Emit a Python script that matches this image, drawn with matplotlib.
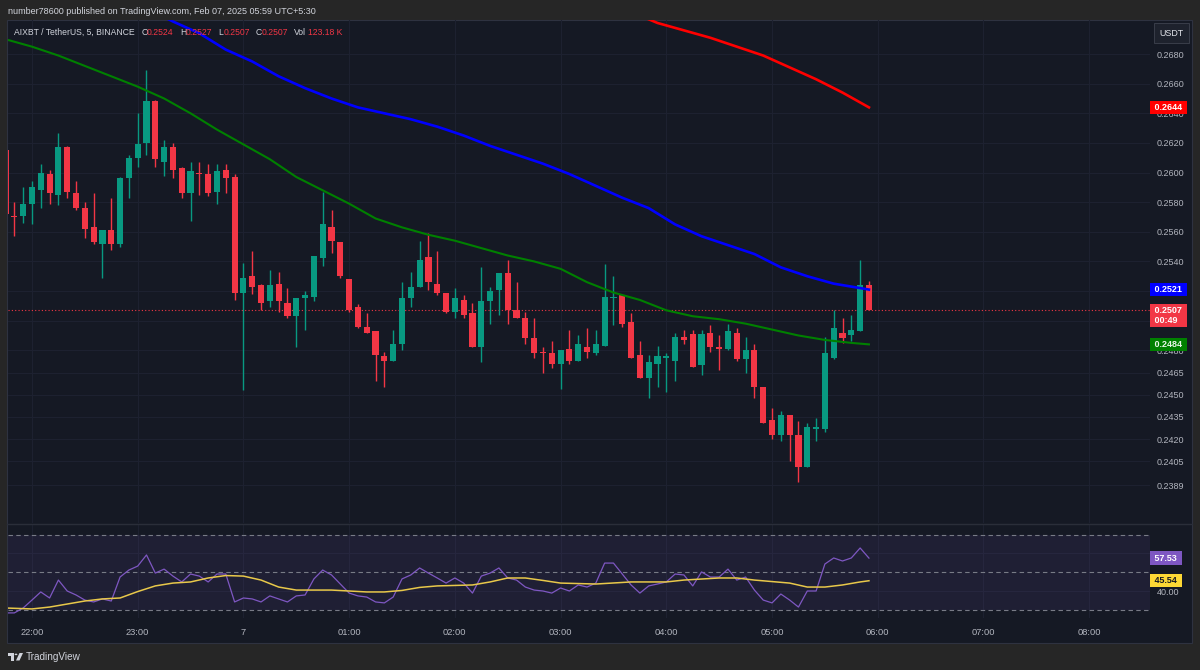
import matplotlib.pyplot as plt
from matplotlib.patches import Rectangle, Polygon, Circle
from matplotlib.lines import Line2D
import pandas as pd

plt.rcParams['font.family'] = ['Liberation Sans', 'DejaVu Sans']

# candles, 5 minute bars from 21:45 to 05:55
opens = [0.2615, 0.2571, 0.2571, 0.2579, 0.2588, 0.2599, 0.2585, 0.2617, 0.2586, 0.2576,
         0.2563, 0.2552, 0.2561, 0.2552, 0.2596, 0.2610, 0.2620, 0.2648, 0.2607, 0.2617,
         0.2603, 0.2586, 0.2600, 0.2599, 0.2587, 0.2602, 0.2597, 0.2519, 0.2530, 0.2524,
         0.2513, 0.2525, 0.2512, 0.2503, 0.2515, 0.2516, 0.2542, 0.2563, 0.2553, 0.2528,
         0.2509, 0.2496, 0.2493, 0.2476, 0.2473, 0.2484, 0.2515, 0.2523, 0.2543, 0.2525,
         0.2519, 0.2506, 0.2514, 0.2505, 0.2482, 0.2513, 0.2521, 0.2532, 0.2507, 0.2502,
         0.2488, 0.2479, 0.2478, 0.2471, 0.2481, 0.2473, 0.2482, 0.2478, 0.2483, 0.2515,
         0.2517, 0.2499, 0.2477, 0.2461, 0.2471, 0.2475, 0.2473, 0.2489, 0.2491, 0.2470,
         0.2492, 0.2482, 0.2481, 0.2492, 0.2474, 0.2480, 0.2455, 0.2433, 0.2423, 0.2436,
         0.2423, 0.2401, 0.2427, 0.2427, 0.2475, 0.2492, 0.2490, 0.2493, 0.2524]
highs = [0.2622, 0.2580, 0.2590, 0.2594, 0.2606, 0.2602, 0.2627, 0.2618, 0.2594, 0.2580,
         0.2586, 0.2561, 0.2583, 0.2597, 0.2612, 0.2640, 0.2669, 0.2649, 0.2622, 0.2620,
         0.2604, 0.2607, 0.2607, 0.2606, 0.2606, 0.2606, 0.2599, 0.2539, 0.2547, 0.2525,
         0.2534, 0.2533, 0.2522, 0.2515, 0.2520, 0.2544, 0.2587, 0.2575, 0.2553, 0.2528,
         0.2511, 0.2505, 0.2493, 0.2479, 0.2494, 0.2526, 0.2533, 0.2554, 0.2559, 0.2547,
         0.2519, 0.2522, 0.2517, 0.2512, 0.2536, 0.2523, 0.2532, 0.2541, 0.2526, 0.2506,
         0.2502, 0.2482, 0.2486, 0.2480, 0.2494, 0.2490, 0.2495, 0.2494, 0.2538, 0.2530,
         0.2517, 0.2505, 0.2486, 0.2477, 0.2483, 0.2478, 0.2492, 0.2494, 0.2494, 0.2494,
         0.2497, 0.2490, 0.2498, 0.2495, 0.2489, 0.2484, 0.2455, 0.2441, 0.2439, 0.2436,
         0.2432, 0.2431, 0.2434, 0.2489, 0.2507, 0.2502, 0.2504, 0.2541, 0.2527]
lows = [0.2571, 0.2557, 0.2566, 0.2565, 0.2576, 0.2579, 0.2578, 0.2583, 0.2575, 0.2556,
        0.2552, 0.2529, 0.2548, 0.2550, 0.2583, 0.2604, 0.2612, 0.2604, 0.2598, 0.2596,
        0.2583, 0.2567, 0.2585, 0.2584, 0.2579, 0.2586, 0.2514, 0.2453, 0.2518, 0.2507,
        0.2509, 0.2506, 0.2502, 0.2482, 0.2494, 0.2513, 0.2537, 0.2546, 0.2529, 0.2506,
        0.2495, 0.2492, 0.2459, 0.2455, 0.2473, 0.2480, 0.2509, 0.2523, 0.2521, 0.2517,
        0.2505, 0.2502, 0.2502, 0.2482, 0.2472, 0.2498, 0.2504, 0.2498, 0.2502, 0.2484,
        0.2475, 0.2465, 0.2468, 0.2454, 0.2471, 0.2473, 0.2475, 0.2477, 0.2483, 0.2497,
        0.2496, 0.2475, 0.2461, 0.2448, 0.2455, 0.2452, 0.2459, 0.2484, 0.2469, 0.2463,
        0.2479, 0.2467, 0.2480, 0.2473, 0.2465, 0.2448, 0.2431, 0.2420, 0.2419, 0.2405,
        0.2391, 0.2401, 0.2419, 0.2425, 0.2474, 0.2485, 0.2486, 0.2493, 0.2507]
closes = [0.2572, 0.2570, 0.2579, 0.2590, 0.2600, 0.2586, 0.2617, 0.2587, 0.2576, 0.2562,
          0.2553, 0.2561, 0.2552, 0.2596, 0.2610, 0.2619, 0.2648, 0.2609, 0.2617, 0.2602,
          0.2586, 0.2601, 0.2599, 0.2586, 0.2601, 0.2596, 0.2519, 0.2529, 0.2523, 0.2512,
          0.2524, 0.2513, 0.2503, 0.2515, 0.2517, 0.2544, 0.2565, 0.2554, 0.2530, 0.2507,
          0.2496, 0.2492, 0.2477, 0.2473, 0.2484, 0.2515, 0.2523, 0.2541, 0.2526, 0.2519,
          0.2506, 0.2515, 0.2504, 0.2482, 0.2513, 0.2520, 0.2532, 0.2507, 0.2502, 0.2488,
          0.2478, 0.2478, 0.2471, 0.2480, 0.2473, 0.2484, 0.2479, 0.2484, 0.2516, 0.2516,
          0.2498, 0.2475, 0.2461, 0.2472, 0.2476, 0.2476, 0.2489, 0.2487, 0.2469, 0.2491,
          0.2482, 0.2481, 0.2493, 0.2474, 0.2480, 0.2455, 0.2431, 0.2423, 0.2436, 0.2423,
          0.2401, 0.2428, 0.2428, 0.2478, 0.2495, 0.2488, 0.2494, 0.2524, 0.2507]
volume_text = '123.18 K'

# moving averages, read at some bar indices
green_idx = [0, 3, 6, 9, 12, 15, 18, 21, 24, 27, 30, 33, 36, 39, 42, 45, 48, 51, 54, 57,
             60, 63, 66, 69, 72, 75, 78, 81, 84, 87, 90, 93, 96, 98]
green_ma = [0.2690, 0.2685, 0.2679, 0.2672, 0.2665, 0.2658, 0.2650, 0.2640, 0.2629, 0.2619,
            0.2609, 0.2597, 0.2588, 0.2579, 0.2569, 0.2563, 0.2558, 0.2554, 0.2549, 0.2544,
            0.2540, 0.2535, 0.2526, 0.2519, 0.2514, 0.2507, 0.2503, 0.2501, 0.2498, 0.2494,
            0.2490, 0.2487, 0.2485, 0.2484]
blue_idx = [17, 19, 22, 25, 28, 31, 34, 37, 40, 43, 46, 49, 52, 55, 58, 61, 64, 67, 70,
            73, 76, 79, 82, 85, 88, 91, 94, 96, 98]
blue_ma = [0.2708, 0.2702, 0.2694, 0.2683, 0.2675, 0.2665, 0.2657, 0.2650, 0.2644, 0.2640,
           0.2636, 0.2631, 0.2625, 0.2618, 0.2612, 0.2606, 0.2599, 0.2591, 0.2583, 0.2576,
           0.2565, 0.2557, 0.2551, 0.2545, 0.2536, 0.2530, 0.2525, 0.2523, 0.2521]
red_idx = [72, 74, 77, 80, 83, 86, 89, 92, 95, 98]
red_ma = [0.2706, 0.2701, 0.2696, 0.2691, 0.2685, 0.2679, 0.2671, 0.2663, 0.2654, 0.2644]

# RSI and its moving average
rsi = [28.5, 28.5, 31.1, 35.3, 39.6, 36.4, 45.9, 40.1, 38.0, 35.3,
       34.3, 35.9, 34.8, 47.5, 51.2, 53.3, 59.2, 49.6, 51.7, 48.0,
       44.9, 49.1, 48.0, 44.9, 49.1, 49.1, 34.3, 36.4, 35.9, 34.3,
       37.5, 35.9, 34.3, 37.5, 38.0, 46.5, 51.2, 48.6, 43.8, 39.0,
       37.5, 36.9, 34.3, 33.8, 36.9, 46.5, 48.6, 52.3, 49.6, 47.0,
       44.3, 47.0, 44.3, 39.0, 48.0, 49.6, 52.3, 47.0, 45.9, 42.2,
       40.6, 40.1, 39.0, 41.7, 40.1, 43.3, 42.2, 44.3, 54.9, 54.9,
       49.1, 43.3, 39.0, 42.8, 43.8, 44.9, 49.1, 48.6, 42.8, 50.2,
       47.5, 47.5, 51.7, 45.9, 47.5, 40.6, 35.3, 33.8, 38.5, 35.3,
       31.6, 40.1, 40.1, 54.4, 57.6, 56.0, 57.6, 62.9, 57.53]
rsi_ma_idx = [0, 3, 5, 7, 9, 11, 13, 15, 17, 19, 21, 23, 25, 27, 29, 31, 33, 37, 41, 43,
              45, 47, 49, 53, 55, 57, 59, 61, 63, 67, 71, 75, 77, 81, 83, 85, 87, 89, 91,
              93, 95, 97, 98]
rsi_ma = [31.1, 30.6, 31.6, 33.2, 34.8, 35.9, 36.4, 39.8, 42.8, 44.3, 44.9, 47.0, 48.3,
          48.0, 45.9, 42.2, 40.6, 40.6, 39.6, 39.6, 40.4, 42.0, 42.8, 43.3, 44.9, 47.0,
          47.0, 45.7, 44.3, 43.8, 44.9, 44.9, 45.9, 47.0, 47.0, 45.9, 45.1, 44.3, 42.2,
          42.2, 43.3, 44.9, 45.54]

# grid levels; the ones covered by price tags get no label
price_ticks = [0.2680, 0.2660, 0.2640, 0.2620, 0.2600, 0.2580, 0.2560, 0.2540, 0.2520,
               0.2500, 0.2480, 0.2465, 0.2450, 0.2435, 0.2420, 0.2405, 0.2389]
hidden_ticks = [0.2520, 0.2500]
hour_labels = ['22:00', '23:00', '7', '01:00', '02:00', '03:00', '04:00', '05:00',
               '06:00', '07:00', '08:00']

times = pd.date_range('2025-02-06 21:45', periods=len(closes), freq='5min')
hour_times = pd.date_range('2025-02-06 22:00', periods=len(hour_labels), freq='h')
step = pd.Timedelta('5min')
x = [(t - times[0]) / step for t in times]
hour_pos = [(t - times[0]) / step for t in hour_times]

W, H = 1200, 670


def fx(px):
    return px / W


def fy(py):
    return 1 - py / H


BG = '#262626'
PANE = '#151924'
GRID = '#1d2130'
TXT = '#b2b5be'
UP = '#089981'
DOWN = '#f23645'

fig = plt.figure(figsize=(W / 100, H / 100), dpi=100, facecolor=BG)
# chart frame goes behind the axes
frame = Rectangle((fx(7), fy(643)), fx(1185), 623 / H, transform=fig.transFigure,
                  fc=PANE, ec='#2e3240', lw=0.8, zorder=-5)
fig.patches.append(frame)

ax = fig.add_axes([fx(8), fy(523), fx(1142), 503 / H])
ax2 = fig.add_axes([fx(8), fy(618), fx(1142), 94 / H])

for a in (ax, ax2):
    a.set_facecolor('none')
    a.set_xlim(0.28, 129.9)
    for s in a.spines.values():
        s.set_visible(False)
    a.set_xticks(hour_pos)
    a.grid(True, color=GRID, lw=0.8)
    a.set_axisbelow(True)
    a.yaxis.tick_right()
    a.tick_params(length=0, labelsize=6.5, labelcolor=TXT, pad=5)

# price pane
ax.set_ylim(0.23634, 0.27030)
ax.set_yticks(price_ticks, ['' if v in hidden_ticks else f'{v:.4f}' for v in price_ticks])
ax.tick_params(axis='x', labelbottom=False)

cols = [UP if c >= o else DOWN for o, c in zip(opens, closes)]
bottoms = [min(o, c) for o, c in zip(opens, closes)]
heights = [max(abs(c - o), 0.00004) for o, c in zip(opens, closes)]
ax.vlines(x, lows, highs, colors=cols, lw=1, zorder=3)
ax.bar(x, heights, bottom=bottoms, width=0.7, color=cols, lw=0, zorder=3)

ax.plot(red_idx, red_ma, color='#ff0000', lw=1.9, zorder=4)
ax.plot(blue_idx, blue_ma, color='#0000ff', lw=1.9, zorder=4)
ax.plot(green_idx, green_ma, color='#008000', lw=1.5, zorder=4)
ax.axhline(closes[-1], color=DOWN, ls=(0, (1, 2)), lw=0.8, zorder=2)


def tag(a, val, txt, fc, tc, dy=0, va='center'):
    a.annotate(txt, xy=(1, val), xycoords=('axes fraction', 'data'), xytext=(1.5, dy),
               textcoords='offset points', ha='left', va=va, fontsize=6.5, color=tc,
               fontweight='bold', linespacing=1.15,
               bbox=dict(boxstyle='square,pad=0.25', fc=fc, ec='none'),
               annotation_clip=False, zorder=6)


tag(ax, red_ma[-1], f' {red_ma[-1]:.4f} ', '#ff0000', 'white')
tag(ax, blue_ma[-1], f' {blue_ma[-1]:.4f} ', '#0000ff', 'white')
tag(ax, green_ma[-1], f' {green_ma[-1]:.4f} ', '#008000', '#e8f5e8')
tag(ax, closes[-1], f' {closes[-1]:.4f} \n 00:49 ', DOWN, 'white', dy=3.2, va='top')

# RSI pane
ax2.set_ylim(25.8, 75.6)
ax2.set_yticks([60, 40], ['60.00', '40.00'])
ax2.set_xticklabels(hour_labels)
ax2.tick_params(axis='x', pad=7.5, labelsize=6.7)
ax2.axhspan(30, 70, color='#7e57c2', alpha=0.1, lw=0)
for lvl in (70, 50, 30):
    ax2.axhline(lvl, color='#787b86', ls=(0, (4, 3)), lw=0.8)
ax2.plot(x, rsi, color='#7e57c2', lw=0.9, zorder=3)
ax2.plot(rsi_ma_idx, rsi_ma, color='#e8c84a', lw=1.1, zorder=3)
tag(ax2, rsi[-1], f' {rsi[-1]:.2f} ', '#7e57c2', 'white')
tag(ax2, rsi_ma[-1], f' {rsi_ma[-1]:.2f} ', '#fdd835', '#131722')

fig.add_artist(Line2D([fx(7), fx(1192)], [fy(523.5)] * 2, color='#2a2e39', lw=1))

# header texts
fig.text(fx(7.5), fy(11.5), 'number78600 published on TradingView.com, Feb 07, 2025 05:59 UTC+5:30',
         fontsize=6.5, color='#d1d4dc', va='center')
legend_parts = [(14, 'AIXBT / TetherUS, 5, BINANCE', '#d1d4dc'),
                (141.5, 'O', '#d1d4dc'), (147, f'{opens[-1]:.4f}', DOWN),
                (180, 'H', '#d1d4dc'), (186, f'{highs[-1]:.4f}', DOWN),
                (218.5, 'L', '#d1d4dc'), (224, f'{lows[-1]:.4f}', DOWN),
                (256, 'C', '#d1d4dc'), (262, f'{closes[-1]:.4f}', DOWN),
                (294, 'Vol', '#d1d4dc'), (307.5, volume_text, DOWN)]
for px, s, c in legend_parts:
    fig.text(fx(px), fy(32.3), s, fontsize=6.2, color=c, va='center')

# currency box
fig.patches.append(Rectangle((fx(1154), fy(43)), fx(35), 20 / H, transform=fig.transFigure,
                             fc='#1e222d', ec='#3a3e4a', lw=0.7))
fig.text(fx(1171.5), fy(33), 'USDT', fontsize=6.4, color='#e6e8ee', ha='center', va='center')

# footer logo
logo = '#d1d4dc'
fig.patches.append(Polygon([(fx(7.5), fy(653)), (fx(13.5), fy(653)), (fx(13.5), fy(660.5)),
                            (fx(10.8), fy(660.5)), (fx(10.8), fy(655.6)), (fx(7.5), fy(655.6))],
                           closed=True, transform=fig.transFigure, fc=logo, ec='none'))
fig.patches.append(Circle((fx(16), fy(654.4)), 1.4 / W, transform=fig.transFigure, fc=logo, ec='none'))
fig.patches.append(Polygon([(fx(19.5), fy(653)), (fx(23), fy(653)), (fx(19.5), fy(660.5)),
                            (fx(16), fy(660.5))],
                           closed=True, transform=fig.transFigure, fc=logo, ec='none'))
fig.text(fx(25.5), fy(657), 'TradingView', fontsize=7.2, color=logo, va='center')

fig.savefig('out.png', dpi=100, facecolor=BG)
